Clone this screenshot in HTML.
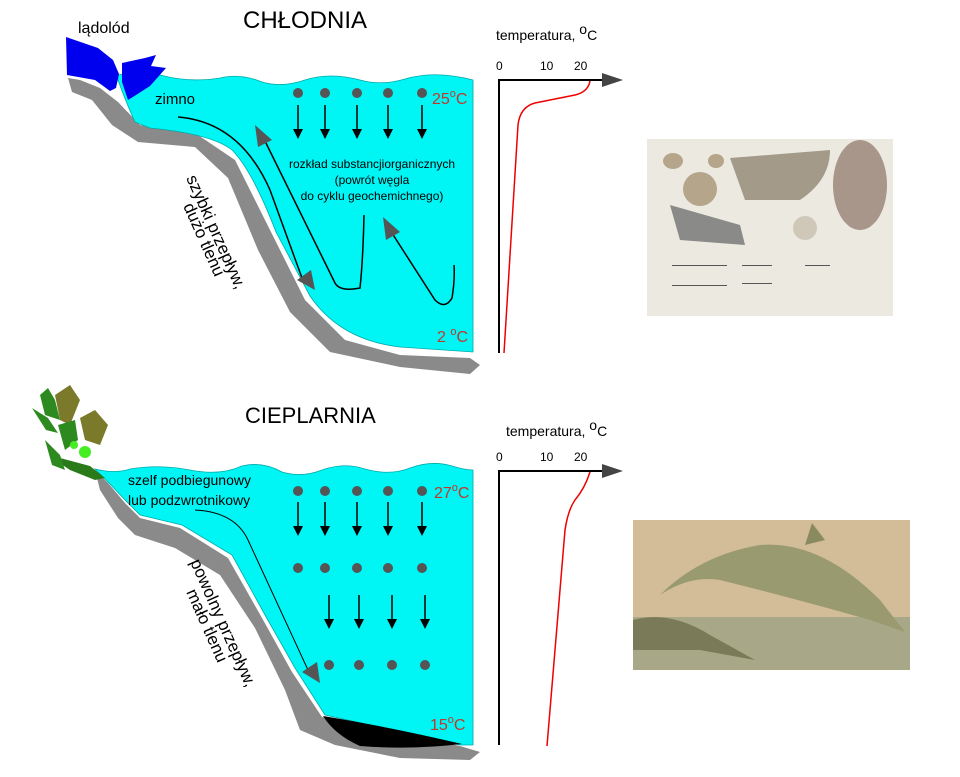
<!DOCTYPE html>
<html><head><meta charset="utf-8"><style>body{margin:0;background:#fff}svg{display:block}text{font-family:"Liberation Sans",sans-serif}</style></head><body>
<svg width="960" height="777" viewBox="0 0 960 777" xmlns="http://www.w3.org/2000/svg">
<defs>
<marker id="ab" markerWidth="10" markerHeight="10" refX="8" refY="5" orient="auto" markerUnits="userSpaceOnUse"><path d="M0,0 L10,5 L0,10Z" fill="#000"/></marker>
</defs>
<!-- TOP SCENE -->
<path d="M68,78 L80,80 L100,88 L118,102 L140,125 L195,133 L235,160 L275,240 L305,300 L345,340 L400,355 L470,358 L480,365 L470,374 L400,367 L330,352 L290,312 L258,250 L228,178 L195,147 L138,142 L112,125 L92,100 L72,92Z" fill="#8a8a8a"/>
<path d="M118,75 Q140,70 160,75 Q190,83 220,78 Q240,73 262,82 Q282,88 305,80 Q330,72 360,80 Q382,86 405,79 Q435,70 473,80 V352 L400,347 Q340,340 310,296 L276,232 Q252,170 232,150 Q212,134 150,128 L135,122 Q125,100 118,80Z" fill="#00f5f5" stroke="#0aa" stroke-width="0.8"/>
<path d="M66,37 L98,48 L113,60 L119,74 L116,88 L110,91 L95,80 L67,75Z" fill="#0000ee"/>
<path d="M122,63 L145,58 L156,55 L151,66 L166,68 L150,86 L136,95 L128,100 L122,82Z" fill="#0000ee"/>
<text x="78" y="33" font-size="16">lądolód</text>
<text x="243" y="28" font-size="24">CHŁODNIA</text>
<text x="155" y="104" font-size="15">zimno</text>
<g fill="#555"><circle cx="298" cy="93" r="5"/><circle cx="325" cy="93" r="5"/><circle cx="357" cy="93" r="5"/><circle cx="388" cy="93" r="5"/><circle cx="422" cy="93" r="5"/></g>
<g stroke="#000" stroke-width="1.5" marker-end="url(#ab)"><line x1="298" y1="105" x2="298" y2="137"/><line x1="325" y1="105" x2="325" y2="137"/><line x1="357" y1="105" x2="357" y2="137"/><line x1="388" y1="105" x2="388" y2="137"/><line x1="422" y1="105" x2="422" y2="137"/></g>
<text x="432" y="104" font-size="16" fill="#c0392b">25<tspan dy="-7" font-size="11">o</tspan><tspan dy="7">C</tspan></text>
<text x="437" y="342" font-size="16" fill="#c0392b">2 <tspan dy="-7" font-size="11">o</tspan><tspan dy="7">C</tspan></text>
<text font-size="12" text-anchor="middle"><tspan x="372" y="168">rozkład substancjiorganicznych</tspan><tspan x="372" y="184">(powrót  węgla</tspan><tspan x="372" y="200">do cyklu geochemichnego)</tspan></text>
<path d="M178,117 Q240,122 270,190 L302,278" fill="none" stroke="#000" stroke-width="1.5"/>
<path d="M297,280 L315,290 L311,270Z" fill="#555"/>
<path d="M262,135 L335,283 Q340,292 360,288 Q363,260 364,215" fill="none" stroke="#000" stroke-width="1.5"/>
<path d="M255,125 L258,147 L272,140Z" fill="#555"/>
<path d="M390,230 L435,300 Q445,310 452,298 Q455,280 454,265" fill="none" stroke="#000" stroke-width="1.5"/>
<path d="M383,217 L386,240 L400,232Z" fill="#555"/>
<text font-size="17" transform="translate(186,178) rotate(66)">szybki przepływ,</text>
<text font-size="17" transform="translate(183,206) rotate(66)">dużo tlenu</text>
<!-- top chart -->
<text x="496" y="40" font-size="14">temperatura, <tspan dy="-6">o</tspan><tspan dy="6">C</tspan></text>
<text x="496" y="70" font-size="12">0</text><text x="540" y="70" font-size="12">10</text><text x="574" y="70" font-size="12">20</text>
<path d="M499,353 V80 H606" fill="none" stroke="#000" stroke-width="2"/>
<path d="M602,73 L623,80 L602,87Z" fill="#444"/>
<path d="M590,81 Q588,92 575,95 L535,103 Q520,107 518,125 L504,353" fill="none" stroke="#e00" stroke-width="1.5"/>
<rect x="647" y="139" width="246" height="177" fill="#ece9e1"/>
<g fill="#b5a58a"><ellipse cx="673" cy="161" rx="10" ry="8"/><ellipse cx="716" cy="161" rx="8" ry="7"/><circle cx="700" cy="189" r="17"/><ellipse cx="860" cy="185" rx="27" ry="45" fill="#a8968a"/><path d="M730,158 L830,150 Q830,180 800,200 L745,200Z" fill="#a39a8a"/><path d="M670,205 L740,225 L745,245 L680,240Z" fill="#8a8a88"/><circle cx="805" cy="228" r="12" fill="#cfc8b8"/></g>
<g fill="#555" font-size="3"><rect x="672" y="265" width="55" height="1"/><rect x="742" y="265" width="30" height="1"/><rect x="805" y="265" width="25" height="1"/><rect x="672" y="285" width="55" height="1"/><rect x="742" y="283" width="30" height="1"/></g>
<!-- BOTTOM SCENE -->
<path d="M95,470 L108,483 L125,503 L140,518 L180,528 L228,558 L262,618 L292,672 L322,717 L460,746 L480,752 L470,760 L400,758 L335,745 L300,730 L285,690 L255,628 L220,575 L175,548 L135,535 L118,518 L100,490Z" fill="#8a8a8a"/>
<path d="M95,469 Q115,474 130,469 Q160,464 190,470 Q220,476 242,466 Q262,461 282,472 Q302,478 322,470 Q345,462 365,469 Q390,476 410,468 Q432,460 452,466 Q465,470 473,470 V745 L460,745 L325,715 L295,668 L265,615 L232,555 L182,525 L140,515 L125,500 L108,482Z" fill="#00f5f5" stroke="#0aa" stroke-width="0.8"/>
<path d="M323,716 Q390,727 462,744 Q410,750 360,746 Q335,735 323,716Z" fill="#000"/>
<g>
<path d="M55,460 L70,470 L95,480 L105,478 L90,466 L60,458Z" fill="#2a7a1a"/>
<path d="M40,395 L48,388 L55,400 L60,420 L45,415Z" fill="#2d8a1e"/>
<path d="M32,408 L48,418 L58,433 L46,430Z" fill="#2d8a1e"/>
<path d="M55,395 L70,385 L80,400 L70,425 L60,420Z" fill="#7a7a2a"/>
<path d="M80,418 L95,410 L108,425 L100,445 L85,440Z" fill="#7a7a2a"/>
<path d="M58,425 L75,420 L78,440 L65,450Z" fill="#2d8a1e"/>
<path d="M45,440 L60,455 L65,470 L52,465Z" fill="#2d8a1e"/>
<circle cx="85" cy="452" r="6" fill="#44ee22"/><circle cx="74" cy="445" r="4" fill="#44ee22"/>
</g>
<text x="245" y="423" font-size="22">CIEPLARNIA</text>
<text font-size="14"><tspan x="128" y="485">szelf podbiegunowy</tspan><tspan x="128" y="505">lub podzwrotnikowy</tspan></text>
<g fill="#555"><circle cx="298" cy="491" r="5"/><circle cx="325" cy="491" r="5"/><circle cx="357" cy="491" r="5"/><circle cx="388" cy="491" r="5"/><circle cx="422" cy="491" r="5"/>
<circle cx="298" cy="568" r="5"/><circle cx="325" cy="568" r="5"/><circle cx="357" cy="568" r="5"/><circle cx="388" cy="568" r="5"/><circle cx="422" cy="568" r="5"/>
<circle cx="329" cy="665" r="5"/><circle cx="359" cy="665" r="5"/><circle cx="392" cy="665" r="5"/><circle cx="425" cy="665" r="5"/></g>
<g stroke="#000" stroke-width="1.5" marker-end="url(#ab)"><line x1="298" y1="502" x2="298" y2="534"/><line x1="325" y1="502" x2="325" y2="534"/><line x1="357" y1="502" x2="357" y2="534"/><line x1="388" y1="502" x2="388" y2="534"/><line x1="422" y1="502" x2="422" y2="534"/>
<line x1="329" y1="595" x2="329" y2="627"/><line x1="359" y1="595" x2="359" y2="627"/><line x1="392" y1="595" x2="392" y2="627"/><line x1="425" y1="595" x2="425" y2="627"/></g>
<text x="434" y="498" font-size="16" fill="#c0392b">27<tspan dy="-7" font-size="11">o</tspan><tspan dy="7">C</tspan></text>
<text x="430" y="730" font-size="16" fill="#c0392b">15<tspan dy="-7" font-size="11">o</tspan><tspan dy="7">C</tspan></text>
<path d="M195,510 Q235,512 248,540 L308,670" fill="none" stroke="#000" stroke-width="1"/>
<path d="M302,672 L320,683 L317,662Z" fill="#555"/>
<text font-size="17" transform="translate(190,562) rotate(66)">powolny przepływ,</text>
<text font-size="17" transform="translate(186,592) rotate(66)">mało tlenu</text>
<!-- bottom chart -->
<text x="506" y="436" font-size="14">temperatura, <tspan dy="-6">o</tspan><tspan dy="6">C</tspan></text>
<text x="496" y="461" font-size="12">0</text><text x="540" y="461" font-size="12">10</text><text x="574" y="461" font-size="12">20</text>
<path d="M499,745 V471 H606" fill="none" stroke="#000" stroke-width="2"/>
<path d="M602,464 L623,471 L602,478Z" fill="#444"/>
<path d="M590,472 Q585,488 575,500 Q568,510 565,530 L547,746" fill="none" stroke="#e00" stroke-width="1.5"/>
<rect x="633" y="520" width="277" height="150" fill="#d2bd98"/>
<rect x="633" y="617" width="277" height="53" fill="#a8a888"/>
<path d="M660,595 Q700,555 760,545 Q820,540 880,600 L905,632 L870,620 Q800,600 720,580 Q690,575 660,595Z" fill="#9a9a70"/>
<path d="M812,523 L825,540 L805,545Z" fill="#8a8a60"/>
<path d="M633,620 Q670,610 710,635 L755,660 L700,650 Q660,650 633,650Z" fill="#7a7a58"/>
</svg>
</body></html>
